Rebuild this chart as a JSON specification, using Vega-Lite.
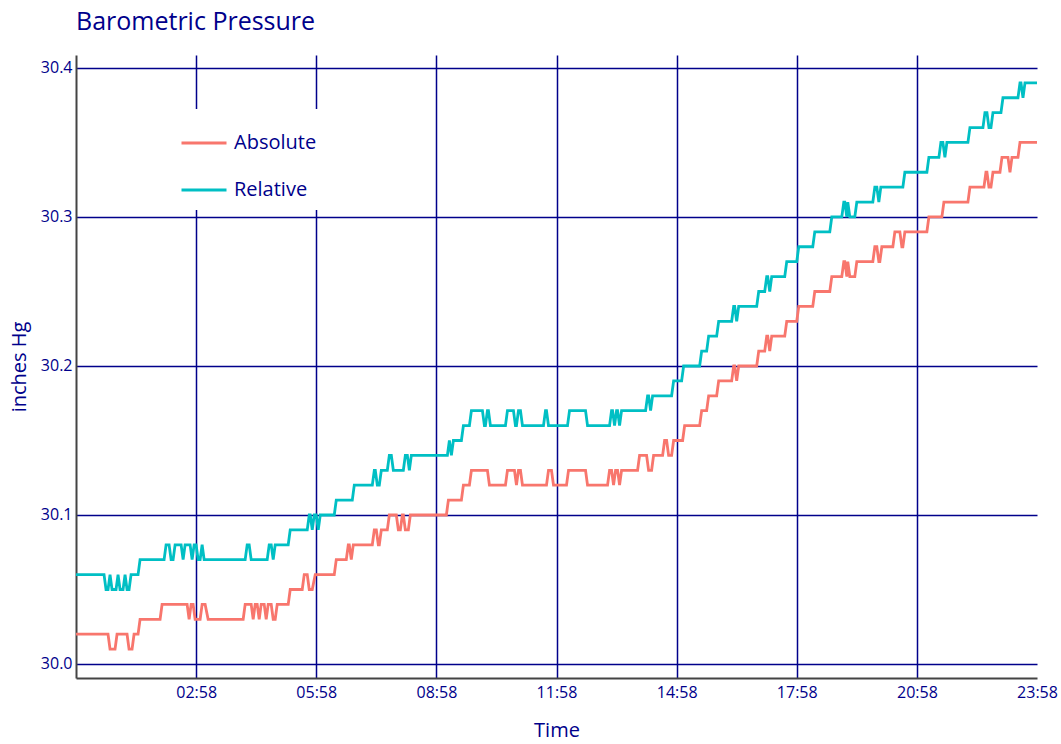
{
  "$schema": "https://vega.github.io/schema/vega-lite/v6.json",
  "width": 961,
  "height": 623,
  "autosize": {"type": "none"},
  "padding": {"left": 76, "top": 55, "right": 24, "bottom": 66},
  "background": "white",
  "config": {"view": {"stroke": null}, "font": "Open Sans"},
  "title": {"text": "Barometric Pressure", "anchor": "start", "frame": "group", "fontSize": 25, "font": "Open Sans", "fontWeight": "normal", "color": "#00008B", "offset": 20},
  "datasets": {
    "absolute": [
      {"t":0,"p":30.02},{"t":48,"p":30.02},{"t":51,"p":30.01},{"t":58.5,"p":30.01},{"t":61.5,"p":30.02},{"t":76.5,"p":30.02},{"t":79.5,"p":30.01},{"t":84,"p":30.01},{"t":87,"p":30.02},{"t":93,"p":30.02},
      {"t":96,"p":30.03},{"t":126,"p":30.03},{"t":129,"p":30.04},{"t":166.5,"p":30.04},{"t":169.5,"p":30.03},{"t":172.5,"p":30.04},{"t":175.5,"p":30.04},{"t":178.5,"p":30.03},{"t":186,"p":30.03},{"t":189,"p":30.04},
      {"t":193.5,"p":30.04},{"t":198,"p":30.03},{"t":250.5,"p":30.03},{"t":253.5,"p":30.04},{"t":262.5,"p":30.04},{"t":265.5,"p":30.03},{"t":268.5,"p":30.04},{"t":271.5,"p":30.04},{"t":274.5,"p":30.03},{"t":277.5,"p":30.04},
      {"t":282,"p":30.04},{"t":285,"p":30.03},{"t":288,"p":30.04},{"t":292.5,"p":30.04},{"t":295.5,"p":30.03},{"t":298.5,"p":30.03},{"t":301.5,"p":30.04},{"t":318,"p":30.04},{"t":321,"p":30.05},{"t":339,"p":30.05},
      {"t":342,"p":30.06},{"t":346.5,"p":30.06},{"t":349.5,"p":30.05},{"t":354,"p":30.05},{"t":358.5,"p":30.06},{"t":387,"p":30.06},{"t":390,"p":30.07},{"t":405,"p":30.07},{"t":408,"p":30.08},{"t":409.5,"p":30.08},
      {"t":412.5,"p":30.07},{"t":415.5,"p":30.08},{"t":444,"p":30.08},{"t":447,"p":30.09},{"t":450,"p":30.09},{"t":453,"p":30.08},{"t":454.5,"p":30.08},{"t":457.5,"p":30.09},{"t":466.5,"p":30.09},{"t":469.5,"p":30.10},
      {"t":480,"p":30.10},{"t":483,"p":30.09},{"t":486,"p":30.09},{"t":489,"p":30.10},{"t":490.5,"p":30.10},{"t":493.5,"p":30.09},{"t":498,"p":30.09},{"t":501,"p":30.10},{"t":555,"p":30.10},{"t":558,"p":30.11},
      {"t":577.5,"p":30.11},{"t":580.5,"p":30.12},{"t":589.5,"p":30.12},{"t":592.5,"p":30.13},{"t":616.5,"p":30.13},{"t":619.5,"p":30.12},{"t":643.5,"p":30.12},{"t":646.5,"p":30.13},{"t":657,"p":30.13},{"t":660,"p":30.12},
      {"t":663,"p":30.13},{"t":666,"p":30.13},{"t":669,"p":30.12},{"t":705,"p":30.12},{"t":708,"p":30.13},{"t":712.5,"p":30.13},{"t":715.5,"p":30.12},{"t":735,"p":30.12},{"t":738,"p":30.13},{"t":763.5,"p":30.13},
      {"t":766.5,"p":30.12},{"t":796.5,"p":30.12},{"t":799.5,"p":30.13},{"t":802.5,"p":30.13},{"t":805.5,"p":30.12},{"t":808.5,"p":30.13},{"t":811.5,"p":30.13},{"t":814.5,"p":30.12},{"t":817.5,"p":30.13},{"t":841.5,"p":30.13},
      {"t":844.5,"p":30.14},{"t":855,"p":30.14},{"t":858,"p":30.13},{"t":862.5,"p":30.13},{"t":865.5,"p":30.14},{"t":879,"p":30.14},{"t":882,"p":30.15},{"t":885,"p":30.15},{"t":888,"p":30.14},{"t":892.5,"p":30.14},
      {"t":895.5,"p":30.15},{"t":909,"p":30.15},{"t":912,"p":30.16},{"t":934.5,"p":30.16},{"t":937.5,"p":30.17},{"t":945,"p":30.17},{"t":948,"p":30.18},{"t":960,"p":30.18},{"t":963,"p":30.19},{"t":982.5,"p":30.19},
      {"t":985.5,"p":30.20},{"t":987,"p":30.20},{"t":990,"p":30.19},{"t":993,"p":30.20},{"t":1020,"p":30.20},{"t":1023,"p":30.21},{"t":1032,"p":30.21},{"t":1035,"p":30.22},{"t":1036.5,"p":30.22},{"t":1039.5,"p":30.21},
      {"t":1042.5,"p":30.22},{"t":1062,"p":30.22},{"t":1065,"p":30.23},{"t":1080,"p":30.23},{"t":1083,"p":30.24},{"t":1104,"p":30.24},{"t":1107,"p":30.25},{"t":1129.5,"p":30.25},{"t":1132.5,"p":30.26},{"t":1147.5,"p":30.26},
      {"t":1150.5,"p":30.27},{"t":1152,"p":30.27},{"t":1155,"p":30.26},{"t":1156.5,"p":30.27},{"t":1159.5,"p":30.26},{"t":1167,"p":30.26},{"t":1170,"p":30.27},{"t":1194,"p":30.27},{"t":1197,"p":30.28},{"t":1200,"p":30.28},
      {"t":1203,"p":30.27},{"t":1204.5,"p":30.27},{"t":1207.5,"p":30.28},{"t":1224,"p":30.28},{"t":1227,"p":30.29},{"t":1234.5,"p":30.29},{"t":1237.5,"p":30.28},{"t":1239,"p":30.28},{"t":1242,"p":30.29},{"t":1275,"p":30.29},
      {"t":1278,"p":30.30},{"t":1297.5,"p":30.30},{"t":1300.5,"p":30.31},{"t":1336.5,"p":30.31},{"t":1339.5,"p":30.32},{"t":1360.5,"p":30.32},{"t":1363.5,"p":30.33},{"t":1365,"p":30.33},{"t":1368,"p":30.32},{"t":1371,"p":30.32},
      {"t":1374,"p":30.33},{"t":1384.5,"p":30.33},{"t":1387.5,"p":30.34},{"t":1396.5,"p":30.34},{"t":1399.5,"p":30.33},{"t":1402.5,"p":30.34},{"t":1411.5,"p":30.34},{"t":1414.5,"p":30.35},{"t":1440,"p":30.35}
    ],
    "relative": [
      {"t":0,"p":30.06},{"t":42,"p":30.06},{"t":45,"p":30.05},{"t":48,"p":30.05},{"t":51,"p":30.06},{"t":54,"p":30.05},{"t":60,"p":30.05},{"t":63,"p":30.06},{"t":66,"p":30.05},{"t":70.5,"p":30.05},
      {"t":73.5,"p":30.06},{"t":76.5,"p":30.05},{"t":79.5,"p":30.05},{"t":82.5,"p":30.06},{"t":93,"p":30.06},{"t":96,"p":30.07},{"t":132,"p":30.07},{"t":135,"p":30.08},{"t":139.5,"p":30.08},{"t":142.5,"p":30.07},
      {"t":145.5,"p":30.07},{"t":148.5,"p":30.08},{"t":157.5,"p":30.08},{"t":160.5,"p":30.07},{"t":163.5,"p":30.08},{"t":171,"p":30.08},{"t":174,"p":30.07},{"t":177,"p":30.08},{"t":180,"p":30.08},{"t":183,"p":30.07},
      {"t":186,"p":30.07},{"t":189,"p":30.08},{"t":192,"p":30.07},{"t":253.5,"p":30.07},{"t":256.5,"p":30.08},{"t":259.5,"p":30.08},{"t":262.5,"p":30.07},{"t":286.5,"p":30.07},{"t":289.5,"p":30.08},{"t":292.5,"p":30.08},
      {"t":295.5,"p":30.07},{"t":298.5,"p":30.08},{"t":318,"p":30.08},{"t":321,"p":30.09},{"t":346.5,"p":30.09},{"t":349.5,"p":30.10},{"t":351,"p":30.10},{"t":354,"p":30.09},{"t":357,"p":30.10},{"t":360,"p":30.10},
      {"t":363,"p":30.09},{"t":366,"p":30.10},{"t":387,"p":30.10},{"t":390,"p":30.11},{"t":414,"p":30.11},{"t":417,"p":30.12},{"t":444,"p":30.12},{"t":447,"p":30.13},{"t":448.5,"p":30.13},{"t":451.5,"p":30.12},
      {"t":454.5,"p":30.12},{"t":457.5,"p":30.13},{"t":466.5,"p":30.13},{"t":469.5,"p":30.14},{"t":472.5,"p":30.14},{"t":475.5,"p":30.13},{"t":490.5,"p":30.13},{"t":493.5,"p":30.14},{"t":496.5,"p":30.14},{"t":499.5,"p":30.13},
      {"t":502.5,"p":30.14},{"t":556.5,"p":30.14},{"t":559.5,"p":30.15},{"t":562.5,"p":30.14},{"t":565.5,"p":30.15},{"t":577.5,"p":30.15},{"t":580.5,"p":30.16},{"t":589.5,"p":30.16},{"t":592.5,"p":30.17},{"t":609,"p":30.17},
      {"t":612,"p":30.16},{"t":613.5,"p":30.16},{"t":616.5,"p":30.17},{"t":618,"p":30.17},{"t":621,"p":30.16},{"t":643.5,"p":30.16},{"t":646.5,"p":30.17},{"t":655.5,"p":30.17},{"t":658.5,"p":30.16},{"t":660,"p":30.16},
      {"t":663,"p":30.17},{"t":666,"p":30.17},{"t":669,"p":30.16},{"t":700.5,"p":30.16},{"t":703.5,"p":30.17},{"t":705,"p":30.17},{"t":708,"p":30.16},{"t":736.5,"p":30.16},{"t":739.5,"p":30.17},{"t":763.5,"p":30.17},
      {"t":766.5,"p":30.16},{"t":799.5,"p":30.16},{"t":802.5,"p":30.17},{"t":804,"p":30.17},{"t":807,"p":30.16},{"t":810,"p":30.17},{"t":811.5,"p":30.17},{"t":814.5,"p":30.16},{"t":817.5,"p":30.17},{"t":853.5,"p":30.17},
      {"t":856.5,"p":30.18},{"t":858,"p":30.18},{"t":861,"p":30.17},{"t":864,"p":30.18},{"t":892.5,"p":30.18},{"t":895.5,"p":30.19},{"t":907.5,"p":30.19},{"t":910.5,"p":30.20},{"t":934.5,"p":30.20},{"t":937.5,"p":30.21},
      {"t":945,"p":30.21},{"t":948,"p":30.22},{"t":960,"p":30.22},{"t":963,"p":30.23},{"t":982.5,"p":30.23},{"t":985.5,"p":30.24},{"t":987,"p":30.24},{"t":990,"p":30.23},{"t":993,"p":30.24},{"t":1020,"p":30.24},
      {"t":1023,"p":30.25},{"t":1032,"p":30.25},{"t":1035,"p":30.26},{"t":1036.5,"p":30.26},{"t":1039.5,"p":30.25},{"t":1042.5,"p":30.26},{"t":1062,"p":30.26},{"t":1065,"p":30.27},{"t":1080,"p":30.27},{"t":1083,"p":30.28},
      {"t":1104,"p":30.28},{"t":1107,"p":30.29},{"t":1129.5,"p":30.29},{"t":1132.5,"p":30.30},{"t":1147.5,"p":30.30},{"t":1150.5,"p":30.31},{"t":1152,"p":30.31},{"t":1155,"p":30.30},{"t":1156.5,"p":30.31},{"t":1159.5,"p":30.30},
      {"t":1167,"p":30.30},{"t":1170,"p":30.31},{"t":1194,"p":30.31},{"t":1197,"p":30.32},{"t":1200,"p":30.32},{"t":1203,"p":30.31},{"t":1206,"p":30.32},{"t":1239,"p":30.32},{"t":1242,"p":30.33},{"t":1275,"p":30.33},
      {"t":1278,"p":30.34},{"t":1293,"p":30.34},{"t":1296,"p":30.35},{"t":1299,"p":30.35},{"t":1302,"p":30.34},{"t":1305,"p":30.35},{"t":1336.5,"p":30.35},{"t":1339.5,"p":30.36},{"t":1359,"p":30.36},{"t":1362,"p":30.37},
      {"t":1365,"p":30.37},{"t":1368,"p":30.36},{"t":1371,"p":30.36},{"t":1374,"p":30.37},{"t":1386,"p":30.37},{"t":1389,"p":30.38},{"t":1411.5,"p":30.38},{"t":1414.5,"p":30.39},{"t":1416,"p":30.39},{"t":1419,"p":30.38},
      {"t":1422,"p":30.39},{"t":1440,"p":30.39}
    ]
  },
  "encoding": {
    "x": {
      "field": "t", "type": "quantitative", "title": "Time",
      "scale": {"domain": [0, 1440], "nice": false, "zero": false},
      "axis": {
        "values": [180, 360, 540, 720, 900, 1080, 1260, 1440],
        "labelExpr": "pad(toString(floor((datum.value + 1438) / 60) % 24), 2, '0', 'left') + ':' + pad(toString((datum.value + 1438) % 60), 2, '0', 'left')",
        "grid": true,
        "gridColor": {"condition": {"test": "datum.value >= 1440", "value": "transparent"}, "value": "#00008B"},
        "gridWidth": 1.5,
        "ticks": false,
        "domainColor": "#444444", "domainWidth": 2,
        "labelColor": "#00008B", "labelFontSize": 16, "labelPadding": 6, "labelFlush": false, "labelOverlap": false,
        "titleColor": "#00008B", "titleFontSize": 20, "titleFontWeight": "normal", "titlePadding": 20
      }
    },
    "y": {
      "field": "p", "type": "quantitative", "title": "inches Hg",
      "scale": {"domain": [29.9906, 30.4087], "nice": false, "zero": false},
      "axis": {
        "values": [30.0, 30.1, 30.2, 30.3, 30.4],
        "format": ".1f",
        "grid": true, "gridColor": "#00008B", "gridWidth": 1.5,
        "ticks": false,
        "domainColor": "#444444", "domainWidth": 2,
        "labelColor": "#00008B", "labelFontSize": 16, "labelPadding": 4,
        "titleColor": "#00008B", "titleFontSize": 20, "titleFontWeight": "normal", "titlePadding": 11
      }
    }
  },
  "layer": [
    {
      "data": {"name": "absolute"},
      "mark": {"type": "line", "strokeWidth": 2.8, "strokeJoin": "miter", "strokeMiterLimit": 4},
      "encoding": {
        "color": {
          "datum": "Absolute", "type": "nominal",
          "scale": {"domain": ["Absolute", "Relative"], "range": ["#F8766D", "#00BFC4"]},
          "legend": {
            "title": null, "orient": "none", "legendX": 94, "legendY": 54,
            "symbolType": "stroke", "symbolSize": 2025, "symbolStrokeWidth": 3,
            "labelFontSize": 20, "labelColor": "#00008B", "labelOffset": 6,
            "fillColor": "white", "padding": 10, "rowPadding": 13
          }
        }
      }
    },
    {
      "data": {"name": "relative"},
      "mark": {"type": "line", "strokeWidth": 2.8, "strokeJoin": "miter", "strokeMiterLimit": 4},
      "encoding": {
        "color": {"datum": "Relative", "type": "nominal"}
      }
    }
  ]
}
